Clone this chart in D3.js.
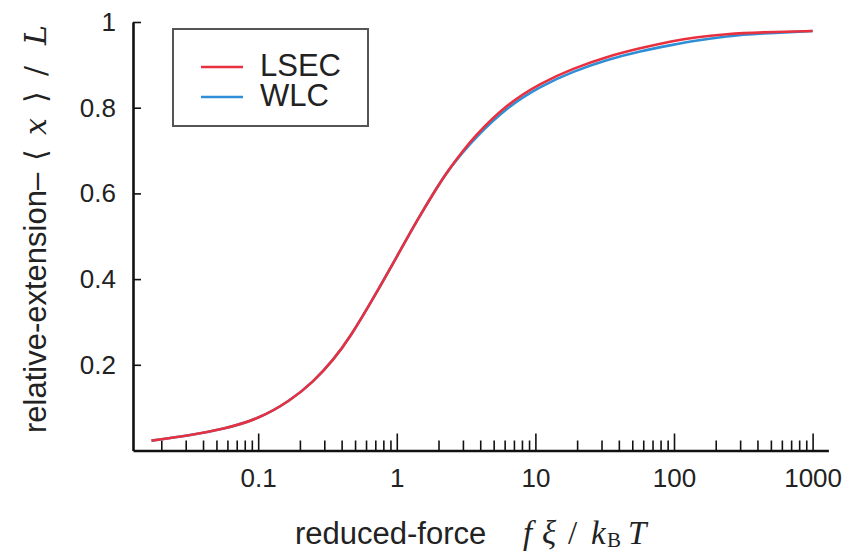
<!DOCTYPE html>
<html>
<head>
<meta charset="utf-8">
<script src="https://cdn.jsdelivr.net/npm/d3@7"></script>
<style>
  body { margin: 0; background: #fff; }
  .axis path, .axis line { stroke: #111; }
  .axis text { font-family: "Liberation Sans", Arial, sans-serif; font-size: 26px; fill: #222; }
</style>
</head>
<body>
<div class="svg_container"></div>
<script>
// values
var force = [0.017, 0.032, 0.056, 0.1, 0.17, 0.25, 0.35, 0.46, 0.68, 1.0, 1.4, 1.95, 2.35, 3.0, 3.56, 6.2, 10.8, 18.8, 32.7, 57, 99, 138, 240, 417, 1000];
var lsec  = [0.023, 0.035, 0.050, 0.073, 0.116, 0.160, 0.212, 0.264, 0.356, 0.452, 0.537, 0.614, 0.654, 0.699, 0.730, 0.808, 0.857, 0.892, 0.919, 0.939, 0.956, 0.964, 0.972, 0.976, 0.979];
var wlc   = [0.023, 0.035, 0.050, 0.073, 0.116, 0.160, 0.212, 0.264, 0.356, 0.452, 0.537, 0.614, 0.654, 0.696, 0.725, 0.801, 0.850, 0.885, 0.912, 0.932, 0.947, 0.956, 0.967, 0.973, 0.979];
var xMajor = [0.1, 1, 10, 100, 1000];
var yTicks = [0.2, 0.4, 0.6, 0.8, 1];
var seriesNames = ["LSEC", "WLC"];
var colors = ["#e8303f", "#2f8fd6"];

var W = 846, H = 551;

var svg = d3.select(".svg_container").append("svg")
    .attr("width", W)
    .attr("height", H);

// log x scale, linear y scale
var xScale = d3.scaleLog()
  .domain([0.0125, 1300])
  .range([133, 828.4]);

var yScale = d3.scaleLinear()
  .domain([0, 1])
  .range([450.5, 22]);

// minor ticks 2..9 of each decade
var xMinor = [];
[0.01, 0.1, 1, 10, 100].forEach(function(dec) {
  for (var k = 2; k <= 9; k++) xMinor.push(dec * k);
});

svg.append("g")
  .attr("class", "x axis minor")
  .attr("transform", "translate(0,450.5)")
  .call(d3.axisBottom(xScale).tickValues(xMinor).tickSize(-10).tickFormat(""))
  .call(function(g) { g.select(".domain").remove(); })
  .selectAll("line").attr("stroke-width", 1.6);

var xAxis = svg.append("g")
  .attr("class", "x axis")
  .attr("transform", "translate(0,450.5)")
  .call(d3.axisBottom(xScale).tickValues(xMajor).tickSize(-17).tickSizeOuter(0)
    .tickPadding(18).tickFormat(function(d) { return String(d); }));
xAxis.select(".domain").attr("stroke-width", 2.6);
xAxis.selectAll("line").attr("stroke-width", 1.6);

var yAxis = svg.append("g")
  .attr("class", "y axis")
  .attr("transform", "translate(133,0)")
  .call(d3.axisLeft(yScale).tickValues(yTicks).tickSize(-8).tickSizeOuter(0)
    .tickPadding(17).tickFormat(function(d) { return String(d); }));
yAxis.select(".domain").attr("stroke-width", 2.6);
yAxis.selectAll("line").attr("stroke-width", 1.6);

// curves
var line = d3.line()
  .x(function(d) { return xScale(d.f); })
  .y(function(d) { return yScale(d.v); })
  .curve(d3.curveBasis);

var wlcData = force.map(function(f, i) { return {f: f, v: wlc[i]}; });
var lsecData = force.map(function(f, i) { return {f: f, v: lsec[i]}; });

svg.append("path")
  .datum(wlcData)
  .attr("d", line)
  .attr("fill", "none")
  .attr("stroke", colors[1])
  .attr("stroke-width", 2.6);

svg.append("path")
  .datum(lsecData)
  .attr("d", line)
  .attr("fill", "none")
  .attr("stroke", colors[0])
  .attr("stroke-width", 2.6);

// legend
var legend = svg.append("g");
legend.append("rect")
  .attr("x", 173).attr("y", 29)
  .attr("width", 195).attr("height", 97)
  .attr("fill", "#fff")
  .attr("stroke", "#555")
  .attr("stroke-width", 2);

seriesNames.forEach(function(name, i) {
  legend.append("line")
    .attr("x1", 201).attr("x2", 243)
    .attr("y1", 67 + i * 30).attr("y2", 67 + i * 30)
    .attr("stroke", colors[i])
    .attr("stroke-width", 2.6);
  legend.append("text")
    .attr("x", 260).attr("y", 76 + i * 30)
    .attr("font-family", "Liberation Sans, Arial, sans-serif")
    .attr("font-size", 31)
    .attr("fill", "#222")
    .text(name);
});

// axis titles
var serif = "Liberation Serif, DejaVu Serif, serif";

var xt = svg.append("text")
  .attr("y", 544)
  .attr("font-family", "Liberation Sans, Arial, sans-serif")
  .attr("font-size", 31)
  .attr("fill", "#222");
xt.append("tspan").attr("x", 295).text("reduced-force");
[["f", 523, true], ["ξ", 542, true], ["/", 568, false], ["k", 591, true], ["T", 628, true]]
  .forEach(function(g) {
    xt.append("tspan")
      .attr("x", g[1])
      .attr("font-family", serif)
      .attr("font-size", 33)
      .attr("font-style", g[2] ? "italic" : "normal")
      .text(g[0]);
  });
svg.append("text")
  .attr("x", 607).attr("y", 547)
  .attr("font-family", serif)
  .attr("font-size", 21)
  .attr("fill", "#222")
  .text("B");

var yt = svg.append("text")
  .attr("transform", "translate(46,433) rotate(-90)")
  .attr("font-family", "Liberation Sans, Arial, sans-serif")
  .attr("font-size", 31)
  .attr("fill", "#222");
yt.append("tspan").attr("x", 0).text("relative-extension–");
[["⟨", 272, false], ["x", 298, true], ["⟩", 330, false], ["/", 357, false], ["L", 388, true]]
  .forEach(function(g) {
    yt.append("tspan")
      .attr("x", g[1])
      .attr("font-family", "DejaVu Serif, Liberation Serif, serif")
      .attr("font-size", 30)
      .attr("font-style", g[2] ? "italic" : "normal")
      .text(g[0]);
  });
</script>
</body>
</html>
